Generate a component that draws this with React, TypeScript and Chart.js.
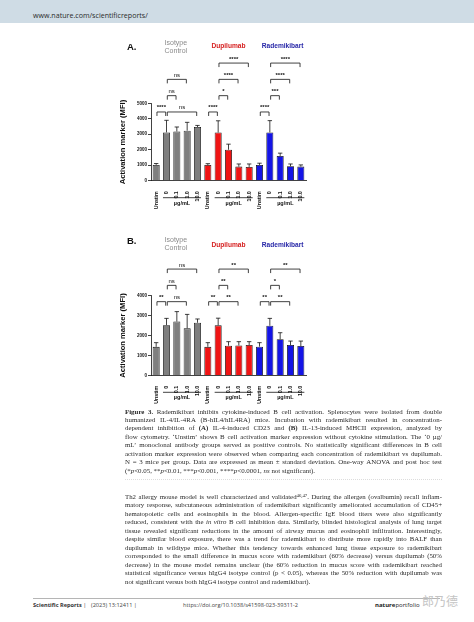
import React, { useEffect, useRef } from 'react';
import { Chart, registerables } from 'chart.js';

Chart.register(...registerables);
Chart.defaults.font.family = '"Liberation Sans", Arial, sans-serif';

// ---------- chart data ----------
const doseLabels = ['Unstim', '0', '0.1', '1.0', '10.0'];
const groupNames = ['Isotype\nControl', 'Dupilumab', 'Rademikibart'];
const unitLabel = 'µg/mL';
const yTitle = 'Activation marker (MFI)';

// Panel A: IL-4-induced CD23
const isotypeA = [1020, 3120, 3180, 3230, 3470];
const isotypeSdA = [90, 780, 290, 540, 100];
const dupilumabA = [1010, 3110, 2000, 910, 890];
const dupilumabSdA = [90, 760, 360, 170, 190];
const rademikibartA = [1020, 3120, 1600, 930, 910];
const rademikibartSdA = [110, 760, 180, 150, 110];
const yTicksA = [0, 1000, 2000, 3000, 4000, 5000];

// Panel B: IL-13-induced MHCII
const isotypeB = [1430, 2520, 2700, 2360, 2640];
const isotypeSdB = [210, 340, 500, 700, 190];
const dupilumabB = [1430, 2510, 1490, 1500, 1520];
const dupilumabSdB = [210, 360, 200, 190, 170];
const rademikibartB = [1440, 2490, 1810, 1520, 1470];
const rademikibartSdB = [200, 370, 330, 200, 250];
const yTicksB = [0, 1000, 2000, 3000, 4000];

// significance brackets: group, from/to dose index, stacking level, label
const bracketsA = [
  { group: 0, from: 0, to: 1, level: 0, label: '****' },
  { group: 0, from: 1, to: 4, level: 0, label: 'ns' },
  { group: 0, from: 1, to: 2, level: 1, label: 'ns' },
  { group: 0, from: 1, to: 3, level: 2, label: 'ns' },
  { group: 1, from: 0, to: 1, level: 0, label: '****' },
  { group: 1, from: 1, to: 2, level: 1, label: '*' },
  { group: 1, from: 1, to: 3, level: 2, label: '****' },
  { group: 1, from: 1, to: 4, level: 3, label: '****' },
  { group: 2, from: 0, to: 1, level: 0, label: '****' },
  { group: 2, from: 1, to: 2, level: 1, label: '***' },
  { group: 2, from: 1, to: 3, level: 2, label: '****' },
  { group: 2, from: 1, to: 4, level: 3, label: '****' },
];
const bracketsB = [
  { group: 0, from: 0, to: 1, level: 0, label: '**' },
  { group: 0, from: 1, to: 3, level: 0, label: 'ns' },
  { group: 0, from: 1, to: 2, level: 1, label: 'ns' },
  { group: 0, from: 1, to: 4, level: 2, label: 'ns' },
  { group: 1, from: 0, to: 1, level: 0, label: '**' },
  { group: 1, from: 1, to: 3, level: 0, label: '**' },
  { group: 1, from: 1, to: 2, level: 1, label: '**' },
  { group: 1, from: 1, to: 4, level: 2, label: '**' },
  { group: 2, from: 0, to: 1, level: 0, label: '**' },
  { group: 2, from: 1, to: 3, level: 0, label: '**' },
  { group: 2, from: 1, to: 2, level: 1, label: '*' },
  { group: 2, from: 1, to: 4, level: 2, label: '**' },
];

// ---------- page text ----------
const captionLines = [
  '§Figure§ §3.§ Rademikibart inhibits cytokine-induced B cell activation. Splenocytes were isolated from double',
  'humanized IL-4/IL-4RA (B-hIL4/hIL4RA) mice. Incubation with rademikibart resulted in concentration-',
  'dependent inhibition of §(A)§ IL-4-induced CD23 and §(B)§ IL-13-induced MHCII expression, analyzed by',
  'flow cytometry. ‘Unstim’ shows B cell activation marker expression without cytokine stimulation. The ‘0 µg/',
  'mL’ monoclonal antibody groups served as positive controls. No statistically significant differences in B cell',
  'activation marker expression were observed when comparing each concentration of rademikibart vs dupilumab.',
  'N = 3 mice per group. Data are expressed as mean ± standard deviation. One-way ANOVA and post hoc test',
];
const captionLast = '(*¦p¦<0.05, **¦p¦<0.01, ***¦p¦<0.001, ****¦p¦<0.0001, ¦ns¦ not significant).';

const bodyLines = [
  'Th2 allergy mouse model is well characterized and validated^46,47^. During the allergen (ovalbumin) recall inflam-',
  'matory response, subcutaneous administration of rademikibart significantly ameliorated accumulation of CD45+',
  'hematopoietic cells and eosinophils in the blood. Allergen-specific IgE blood titers were also significantly',
  'reduced, consistent with the ¦in¦ ¦vitro¦ B cell inhibition data. Similarly, blinded histological analysis of lung target',
  'tissue revealed significant reductions in the amount of airway mucus and eosinophil infiltration. Interestingly,',
  'despite similar blood exposure, there was a trend for rademikibart to distribute more rapidly into BALF than',
  'dupilumab in wildtype mice. Whether this tendency towards enhanced lung tissue exposure to rademikibart',
  'corresponded to the small difference in mucus score with rademikibart (60% decrease) versus dupilumab (50%',
  'decrease) in the mouse model remains unclear (the 60% reduction in mucus score with rademikibart reached',
  'statistical significance versus hIgG4 isotype control (p < 0.05), whereas the 50% reduction with dupilumab was',
];
const bodyLast = 'not significant versus both hIgG4 isotype control and rademikibart).';

// ---------- styling ----------
const GROUP_FILL = ['#7f7f7f', '#f01414', '#1414e6'];
const GROUP_TEXT = ['#8a8a8a', '#d62222', '#2828a8'];
const INK = '#111';
const FONT = '"Liberation Sans", Arial, sans-serif';

type Bracket = { group: number; from: number; to: number; level: number; label: string };
type Panel = {
  letter: string;
  groups: number[][];
  sds: number[][];
  ticks: number[];
  brackets: Bracket[];
  bracketBase: number;
  padTop: number;
  padBottom: number;
  letterY: number;
  isoY: number;
  nameY: number;
  top: number;
};

const panels: Panel[] = [
  {
    letter: 'A.', groups: [isotypeA, dupilumabA, rademikibartA], sds: [isotypeSdA, dupilumabSdA, rademikibartSdA],
    ticks: yTicksA, brackets: bracketsA, bracketBase: 4440, padTop: 78.3, padBottom: 4.3,
    letterY: 22.3, isoY: 17.7, nameY: 21, top: 25,
  },
  {
    letter: 'B.', groups: [isotypeB, dupilumabB, rademikibartB], sds: [isotypeSdB, dupilumabSdB, rademikibartSdB],
    ticks: yTicksB, brackets: bracketsB, bracketBase: 3700, padTop: 75.7, padBottom: 4.7,
    letterY: 21, isoY: 20, nameY: 25.3, top: 220,
  },
];

const annotPlugin = {
  id: 'annot',
  afterDraw(chart: any, _args: any, opts: any) {
    const p: Panel = opts.panel;
    const ctx: CanvasRenderingContext2D = chart.ctx;
    const ys = chart.scales.y;
    const xs = chart.scales.x;
    const meta = chart.getDatasetMeta(0);
    const values = p.groups.flat();
    const sds = p.sds.flat();
    ctx.save();
    ctx.strokeStyle = INK;
    ctx.fillStyle = INK;
    ctx.lineWidth = 0.8;
    // error bars (upper)
    values.forEach((v, i) => {
      const el = meta.data[i];
      const y0 = ys.getPixelForValue(v);
      const y1 = ys.getPixelForValue(v + sds[i]);
      ctx.beginPath();
      ctx.moveTo(el.x, y0);
      ctx.lineTo(el.x, y1);
      ctx.moveTo(el.x - 2.2, y1);
      ctx.lineTo(el.x + 2.2, y1);
      ctx.stroke();
    });
    // brackets
    const base = ys.getPixelForValue(p.bracketBase);
    p.brackets.forEach((b) => {
      const xa = meta.data[b.group * 5 + b.from].x + 0.8;
      const xb = meta.data[b.group * 5 + b.to].x - 0.8;
      const y = base - b.level * 16.3;
      ctx.beginPath();
      ctx.moveTo(xa, y + 4);
      ctx.lineTo(xa, y);
      ctx.lineTo(xb, y);
      ctx.lineTo(xb, y + 4);
      ctx.stroke();
      ctx.font = (b.label === 'ns' ? '' : 'bold ') + '6px ' + FONT;
      ctx.textAlign = 'center';
      ctx.textBaseline = 'bottom';
      ctx.fillText(b.label, (xa + xb) / 2, y - 1.2);
    });
    // unit underline + label
    for (let g = 0; g < 3; g++) {
      const a = meta.data[g * 5 + 1];
      const z = meta.data[g * 5 + 4];
      const y = xs.top + 17;
      ctx.beginPath();
      ctx.moveTo(a.x - a.width / 2, y);
      ctx.lineTo(z.x + z.width / 2, y);
      ctx.stroke();
      ctx.font = 'bold 5.5px ' + FONT;
      ctx.textAlign = 'center';
      ctx.textBaseline = 'middle';
      ctx.fillText(unitLabel, (a.x + z.x) / 2, xs.top + 22.5);
    }
    // group names
    groupNames.forEach((name, g) => {
      const cx = meta.data[g * 5 + 2].x;
      ctx.fillStyle = GROUP_TEXT[g];
      ctx.textAlign = 'center';
      ctx.textBaseline = 'middle';
      if (name.includes('\n')) {
        ctx.font = '7px ' + FONT;
        name.split('\n').forEach((ln, k) => ctx.fillText(ln, cx - 1, p.isoY + k * 8));
      } else {
        ctx.font = 'bold 6.6px ' + FONT;
        ctx.fillText(name, cx + (g === 2 ? 2.5 : 0), p.nameY);
      }
    });
    // panel letter
    ctx.fillStyle = INK;
    ctx.font = 'bold 9.5px ' + FONT;
    ctx.textAlign = 'left';
    ctx.textBaseline = 'middle';
    ctx.fillText(p.letter, 27, p.letterY);
    ctx.restore();
  },
};

function makeConfig(p: Panel): any {
  const labels = [...doseLabels, ...doseLabels, ...doseLabels];
  const values = p.groups.flat();
  const colors = p.groups.flatMap((grp, g) => grp.map(() => GROUP_FILL[g]));
  return {
    type: 'bar',
    data: {
      labels,
      datasets: [{
        data: values,
        backgroundColor: colors,
        borderColor: INK,
        borderWidth: 0.8,
        barPercentage: 0.68,
        categoryPercentage: 1,
      }],
    },
    options: {
      animation: false,
      responsive: false,
      maintainAspectRatio: false,
      devicePixelRatio: 1,
      events: [],
      layout: { padding: { top: p.padTop, right: 9, bottom: p.padBottom, left: 0 } },
      plugins: { legend: { display: false }, tooltip: { enabled: false }, annot: { panel: p } },
      scales: {
        x: {
          type: 'category',
          offset: true,
          grid: { display: false },
          border: { display: true, color: INK, width: 0.8 },
          ticks: {
            autoSkip: false, maxRotation: 90, minRotation: 90, padding: 2.5, color: INK,
            font: { size: 5.3, weight: 'bold' },
          },
          afterFit: (s: any) => { s.height = 30; },
        },
        y: {
          min: 0,
          max: p.ticks[p.ticks.length - 1],
          afterBuildTicks: (s: any) => { s.ticks = p.ticks.map((v) => ({ value: v })); },
          ticks: {
            padding: 1, color: INK, font: { size: 4.5, weight: 'bold' },
            callback: (v: any) => String(v),
          },
          grid: { drawOnChartArea: false, drawTicks: true, tickLength: 3, color: INK, lineWidth: 0.8 },
          border: { display: true, color: INK, width: 0.8 },
          title: {
            display: true, text: yTitle, color: INK,
            font: { size: 7.6, weight: 'bold' }, padding: { top: 18.5, bottom: 0 },
          },
          afterFit: (s: any) => { s.width = 51; },
        },
      },
    },
    plugins: [annotPlugin],
  };
}

function ChartPanel({ panel }: { panel: Panel }) {
  const ref = useRef<HTMLCanvasElement>(null);
  useEffect(() => {
    const chart = new Chart(ref.current as HTMLCanvasElement, makeConfig(panel));
    return () => chart.destroy();
  }, [panel]);
  return (
    <canvas
      ref={ref}
      width={215}
      height={190}
      style={{ position: 'absolute', left: 100, top: panel.top, width: 215, height: 190 }}
    />
  );
}

function renderWord(w: string, key: number) {
  const parts: React.ReactNode[] = [];
  let bold = false, ital = false, sup = false, buf = '';
  const flush = () => {
    if (!buf) return;
    parts.push(
      <span
        key={parts.length}
        style={{
          fontWeight: bold ? 'bold' : 'normal',
          fontStyle: ital ? 'italic' : 'normal',
          fontSize: sup ? '70%' : undefined,
          position: sup ? 'relative' : undefined,
          top: sup ? '-0.45em' : undefined,
        }}
      >
        {buf}
      </span>
    );
    buf = '';
  };
  for (const ch of w) {
    if (ch === '§') { flush(); bold = !bold; }
    else if (ch === '¦') { flush(); ital = !ital; }
    else if (ch === '^') { flush(); sup = !sup; }
    else buf += ch;
  }
  flush();
  return <span key={key} style={{ whiteSpace: 'nowrap' }}>{parts}</span>;
}

function TextBlock({ lines, last, top, lineH, size }: { lines: string[]; last: string; top: number; lineH: number; size: number }) {
  const lineStyle: React.CSSProperties = {
    position: 'absolute', left: 125, width: 317, height: lineH, lineHeight: lineH + 'px',
    fontFamily: '"Liberation Serif", "Times New Roman", serif', fontSize: size, color: '#2a2a2a',
  };
  return (
    <>
      {lines.map((ln, i) => (
        <div key={i} style={{ ...lineStyle, top: top + i * lineH, display: 'flex', justifyContent: 'space-between' }}>
          {ln.split(' ').map((w, k) => renderWord(w, k))}
        </div>
      ))}
      <div style={{ ...lineStyle, top: top + lines.length * lineH, whiteSpace: 'nowrap' }}>
        {last.split(' ').map((w, k) => (
          <React.Fragment key={k}>{renderWord(w, k)}{' '}</React.Fragment>
        ))}
      </div>
    </>
  );
}

export default function App() {
  const sans = '"Open Sans", "Liberation Sans", sans-serif';
  return (
    <div style={{ position: 'relative', width: 474, height: 622, background: '#fff', overflow: 'hidden' }}>
      <style>{'html,body{margin:0;padding:0;background:#fff}'}</style>
      <div style={{ position: 'absolute', left: 0, top: 0, width: 474, height: 22.5, background: '#cfdce5' }} />
      <div style={{ position: 'absolute', left: 33, top: 10.5, lineHeight: '9px', fontFamily: sans, fontSize: 7.1, color: '#2a2a2a' }}>
        www.nature.com/scientificreports/
      </div>

      {panels.map((p, i) => <ChartPanel key={i} panel={p} />)}

      <TextBlock lines={captionLines} last={captionLast} top={407.5} lineH={8.43} size={6.9} />
      <div style={{ position: 'absolute', left: 125, top: 479, width: 317, borderTop: '0.8px dotted #dcdcdc' }} />
      <TextBlock lines={bodyLines} last={bodyLast} top={492.7} lineH={8.5} size={6.8} />

      <div style={{ position: 'absolute', left: 33, top: 598, width: 407, borderTop: '0.6px solid #b5b5b5' }} />
      <div style={{ position: 'absolute', top: 602, lineHeight: '7px', fontFamily: sans, fontSize: 5.6, color: '#333', left: 33, whiteSpace: 'nowrap' }}>
        <b>Scientific Reports</b> |
      </div>
      <div style={{ position: 'absolute', top: 602, lineHeight: '7px', fontFamily: sans, fontSize: 5.6, color: '#444', left: 91, whiteSpace: 'nowrap' }}>
        (2023) 13:12411 |
      </div>
      <div style={{ position: 'absolute', top: 602, lineHeight: '7px', fontFamily: sans, fontSize: 5.6, color: '#444', left: 183, whiteSpace: 'nowrap' }}>
        https://doi.org/10.1038/s41598-023-39311-2
      </div>
      <div style={{ position: 'absolute', top: 602, lineHeight: '7px', fontFamily: sans, fontSize: 6, color: '#222', left: 375, whiteSpace: 'nowrap' }}>
        <b>nature</b>portfolio
      </div>
      <div style={{ position: 'absolute', top: 594, left: 422, lineHeight: '14px', fontFamily: '"Noto Sans CJK SC", sans-serif', fontSize: 12, color: '#c4c4c4', whiteSpace: 'nowrap' }}>
        郎乃德
      </div>
    </div>
  );
}
